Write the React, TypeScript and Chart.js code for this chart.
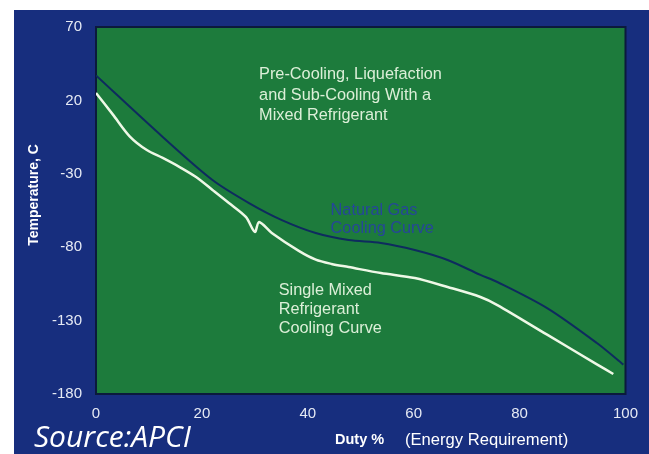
import React, { useEffect, useRef } from "react";
import { Chart, registerables } from "chart.js";

Chart.register(...registerables);

// ---- data ----
const xTicks = [0, 20, 40, 60, 80, 100];
const yTicks = [-180, -130, -80, -30, 20, 70];

const ngDuty = [0, 12.6, 22, 28.9, 35.1, 41.5, 47.7, 53.8, 60.2, 66.4, 72.6, 75.8, 85.2, 94.6, 99.6];
const ngTemp = [37, -4.9, -34.2, -49.9, -61.5, -70.3, -75.1, -77.1, -81.9, -88.7, -98.9, -103.7, -121.5, -145.3, -160];

const smrDuty = [0, 3.2, 6.4, 9.6, 12.6, 15.8, 18.9, 22, 25.1, 28.3, 30, 30.8, 33.2, 38.3, 41.5, 44.5, 47.7, 53.8, 60.2, 66.4, 72.6, 75.8, 85.2, 94.6, 97.7];
const smrTemp = [25, 10.3, -4.6, -13.8, -19.2, -25.4, -32.2, -41, -49.9, -59.4, -69.6, -62.8, -70.3, -82.5, -88.5, -91.4, -93.5, -97.6, -101, -107.1, -113.9, -119.4, -139.6, -159.8, -166.4];

const noteTop = ["Pre-Cooling, Liquefaction", "and Sub-Cooling With a", "Mixed Refrigerant"];
const noteNG = ["Natural Gas", "Cooling Curve"];
const noteSMR = ["Single Mixed", "Refrigerant", "Cooling Curve"];
const yTitle = "Temperature, C";
const xTitleBold = "Duty %";
const xTitleRest = "(Energy Requirement)";
const sourceText = "Source:APCI";

const BLUE = "#172e7e";
const GREEN = "#1d7b3c";
const NAVY_LINE = "#0e2b5e";
const WHITE_LINE = "#eef8e6";
const TICK = "#e6eaf4";
const FONT = '"Liberation Sans", Arial, sans-serif';

const decor = {
  id: "decor",
  beforeDraw(chart: any) {
    const { ctx, chartArea: a } = chart;
    ctx.save();
    ctx.fillStyle = "#ffffff";
    ctx.fillRect(0, 0, chart.width, chart.height);
    ctx.fillStyle = BLUE;
    ctx.fillRect(14, 10, chart.width - 14, chart.height - 10);
    ctx.fillStyle = GREEN;
    ctx.fillRect(a.left, a.top, a.right - a.left, a.bottom - a.top);
    ctx.restore();
  },
  beforeDatasetsDraw(chart: any) {
    const { ctx, chartArea: a } = chart;
    ctx.save();
    ctx.strokeStyle = "#0b1a3c";
    ctx.lineWidth = 2;
    ctx.strokeRect(a.left, a.top, a.right - a.left, a.bottom - a.top);
    ctx.restore();
  },
  afterDraw(chart: any) {
    const { ctx } = chart;
    const xs = chart.scales.x;
    const ys = chart.scales.y;
    const block = (lines: string[], dx: number, dy: number, step: number, color: string) => {
      const x0 = xs.getPixelForValue(dx);
      const y0 = ys.getPixelForValue(dy);
      ctx.fillStyle = color;
      ctx.font = `16.3px ${FONT}`;
      ctx.textAlign = "left";
      ctx.textBaseline = "middle";
      lines.forEach((l, i) => ctx.fillText(l, x0, y0 + i * step));
    };
    ctx.save();
    block(noteTop, 30.8, 37.3, 20.3, "#dcefd8");
    block(noteNG, 44.3, -54.7, 18.5, "#26469a");
    block(noteSMR, 34.5, -109.2, 19, "#dcefd8");

    // y title
    ctx.save();
    ctx.translate(34, 195);
    ctx.rotate(-Math.PI / 2);
    ctx.font = `bold 14px ${FONT}`;
    ctx.fillStyle = "#ffffff";
    ctx.textAlign = "center";
    ctx.textBaseline = "middle";
    ctx.fillText(yTitle, 0, 0);
    ctx.restore();

    // x title
    ctx.font = `bold 14.5px ${FONT}`;
    ctx.fillStyle = "#ffffff";
    ctx.textAlign = "left";
    ctx.textBaseline = "middle";
    ctx.fillText(xTitleBold, 335, 440);
    ctx.font = `16.6px ${FONT}`;
    ctx.fillText(xTitleRest, 405, 440);

    // source
    ctx.font = `italic 30px "Open Sans", sans-serif`;
    ctx.fillStyle = "#ffffff";
    ctx.textBaseline = "alphabetic";
    ctx.fillText(sourceText, 34, 447);
    ctx.restore();
  },
};

export default function App() {
  const ref = useRef<HTMLCanvasElement | null>(null);
  useEffect(() => {
    if (!ref.current) return;
    const chart = new Chart(ref.current, {
      type: "line",
      data: {
        datasets: [
          {
            label: "Natural Gas Cooling Curve",
            data: ngDuty.map((x, i) => ({ x, y: ngTemp[i] })),
            borderColor: NAVY_LINE,
            borderWidth: 2,
            pointRadius: 0,
            tension: 0.3,
            fill: false,
          },
          {
            label: "Single Mixed Refrigerant Cooling Curve",
            data: smrDuty.map((x, i) => ({ x, y: smrTemp[i] })),
            borderColor: WHITE_LINE,
            borderWidth: 2.5,
            pointRadius: 0,
            tension: 0.3,
            fill: false,
          },
        ],
      },
      options: {
        animation: false,
        responsive: false,
        events: [],
        layout: { padding: { left: 0, top: 27, right: 20, bottom: 0 } },
        plugins: { legend: { display: false }, tooltip: { enabled: false }, title: { display: false } },
        scales: {
          x: {
            type: "linear",
            min: 0,
            max: 100,
            afterBuildTicks: (s: any) => {
              s.ticks = xTicks.map((v) => ({ value: v }));
            },
            afterFit: (s: any) => {
              s.height = 60;
            },
            ticks: { color: TICK, font: { size: 15, family: FONT }, padding: 11, maxRotation: 0, autoSkip: false },
            grid: { display: false, drawTicks: false },
            border: { display: false },
          },
          y: {
            type: "linear",
            min: -180,
            max: 70,
            afterBuildTicks: (s: any) => {
              s.ticks = yTicks.map((v) => ({ value: v }));
            },
            afterFit: (s: any) => {
              s.width = 96;
            },
            ticks: { color: TICK, font: { size: 15, family: FONT }, padding: 14, autoSkip: false },
            grid: { display: false, drawTicks: false },
            border: { display: false },
          },
        },
      },
      plugins: [decor],
    });
    return () => chart.destroy();
  }, []);
  return (
    <div style={{ position: "fixed", left: 0, top: 0, width: 649, height: 454 }}>
      <canvas ref={ref} width={649} height={454} style={{ display: "block" }} />
    </div>
  );
}
